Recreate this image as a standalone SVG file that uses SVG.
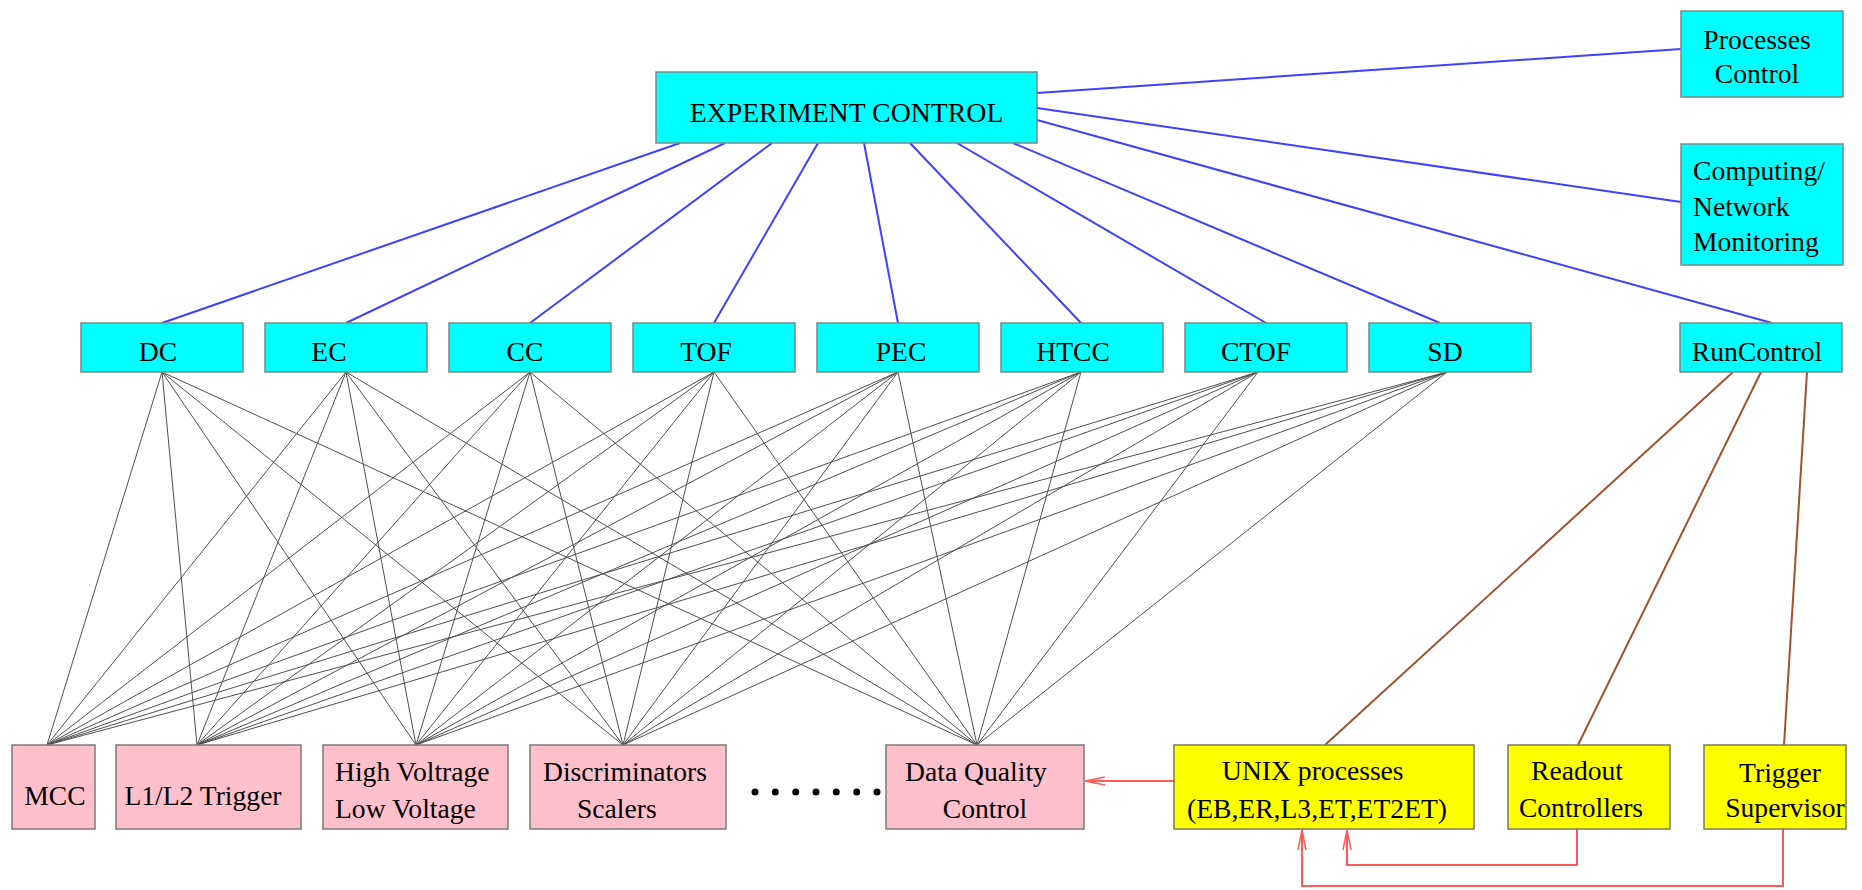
<svg xmlns="http://www.w3.org/2000/svg" width="1862" height="890" viewBox="0 0 1862 890">
<style>
text{font-family:"Liberation Serif","Times New Roman",serif;font-size:27.6px;fill:#000}
.c{text-anchor:middle}
.cy{fill:#00ffff;stroke:#7a8a8a;stroke-width:1.5}
.pk{fill:#ffc0cb;stroke:#7a7a7a;stroke-width:1.5}
.ye{fill:#ffff00;stroke:#7a7a5a;stroke-width:1.5}
.bl{stroke:#4040ff;stroke-width:2;fill:none}
.gr{stroke:#505050;stroke-width:1;fill:none}
.br{stroke:#a0522d;stroke-width:2;fill:none}
.rd{stroke:#ff5a5a;stroke-width:2;fill:none;marker-end:url(#ah)}
</style>
<defs>
<marker id="ah" viewBox="0 0 20 10" refX="20" refY="5" markerWidth="20" markerHeight="10" markerUnits="userSpaceOnUse" orient="auto">
<path d="M0,1 L20,5 L0,9" fill="none" stroke="#ff5a5a" stroke-width="1.5"/>
</marker>
</defs>
<g id="connectors">
<line class="bl" x1="680" y1="143" x2="162" y2="323"/>
<line class="bl" x1="725" y1="143" x2="346" y2="323"/>
<line class="bl" x1="772" y1="143" x2="530" y2="323"/>
<line class="bl" x1="818" y1="143" x2="714" y2="323"/>
<line class="bl" x1="864" y1="143" x2="898" y2="323"/>
<line class="bl" x1="910" y1="143" x2="1081" y2="323"/>
<line class="bl" x1="957" y1="143" x2="1266" y2="323"/>
<line class="bl" x1="1013" y1="143" x2="1440" y2="323"/>
<line class="bl" x1="1037" y1="93" x2="1681" y2="49"/>
<line class="bl" x1="1037" y1="108" x2="1681" y2="202"/>
<line class="bl" x1="1037" y1="120" x2="1772" y2="323"/>
<g class="gr">
<line x1="162" y1="372" x2="47" y2="745"/><line x1="162" y1="372" x2="197" y2="745"/><line x1="162" y1="372" x2="416" y2="745"/><line x1="162" y1="372" x2="623" y2="745"/><line x1="162" y1="372" x2="977" y2="745"/>
<line x1="346" y1="372" x2="47" y2="745"/><line x1="346" y1="372" x2="197" y2="745"/><line x1="346" y1="372" x2="416" y2="745"/><line x1="346" y1="372" x2="623" y2="745"/><line x1="346" y1="372" x2="977" y2="745"/>
<line x1="530" y1="372" x2="47" y2="745"/><line x1="530" y1="372" x2="197" y2="745"/><line x1="530" y1="372" x2="416" y2="745"/><line x1="530" y1="372" x2="623" y2="745"/><line x1="530" y1="372" x2="977" y2="745"/>
<line x1="714" y1="372" x2="47" y2="745"/><line x1="714" y1="372" x2="197" y2="745"/><line x1="714" y1="372" x2="416" y2="745"/><line x1="714" y1="372" x2="623" y2="745"/><line x1="714" y1="372" x2="977" y2="745"/>
<line x1="898" y1="372" x2="47" y2="745"/><line x1="898" y1="372" x2="197" y2="745"/><line x1="898" y1="372" x2="416" y2="745"/><line x1="898" y1="372" x2="623" y2="745"/><line x1="898" y1="372" x2="977" y2="745"/>
<line x1="1081" y1="372" x2="47" y2="745"/><line x1="1081" y1="372" x2="197" y2="745"/><line x1="1081" y1="372" x2="416" y2="745"/><line x1="1081" y1="372" x2="623" y2="745"/><line x1="1081" y1="372" x2="977" y2="745"/>
<line x1="1258" y1="372" x2="47" y2="745"/><line x1="1258" y1="372" x2="197" y2="745"/><line x1="1258" y1="372" x2="416" y2="745"/><line x1="1258" y1="372" x2="623" y2="745"/><line x1="1258" y1="372" x2="977" y2="745"/>
<line x1="1447" y1="372" x2="47" y2="745"/><line x1="1447" y1="372" x2="197" y2="745"/><line x1="1447" y1="372" x2="416" y2="745"/><line x1="1447" y1="372" x2="623" y2="745"/><line x1="1447" y1="372" x2="977" y2="745"/>
</g>
<line class="br" x1="1733" y1="372" x2="1325" y2="745"/>
<line class="br" x1="1761" y1="372" x2="1578" y2="745"/>
<line class="br" x1="1807" y1="372" x2="1784" y2="745"/>
<path class="rd" d="M1174,781 L1085,781"/>
<path class="rd" d="M1577,829 L1577,865 L1347,865 L1347,830"/>
<path class="rd" d="M1783,829 L1783,886 L1302,886 L1302,830"/>
</g>
<g id="experiment-control"><rect class="cy" x="656" y="72" width="381" height="71"/><text class="c" x="846.5" y="122" style="font-size:27.8px">EXPERIMENT CONTROL</text></g>
<g id="processes-control"><rect class="cy" x="1681" y="11" width="162" height="86"/><text class="c" x="1757" y="49">Processes</text><text class="c" x="1757" y="83">Control</text></g>
<g id="computing"><rect class="cy" x="1681" y="144" width="162" height="121"/><text x="1693" y="180">Computing/</text><text x="1693" y="216">Network</text><text x="1693" y="251">Monitoring</text></g>
<g id="dc"><rect class="cy" x="81" y="323" width="162" height="49"/><text class="c" x="158" y="361">DC</text></g>
<g id="ec"><rect class="cy" x="265" y="323" width="162" height="49"/><text class="c" x="329" y="361">EC</text></g>
<g id="cc"><rect class="cy" x="449" y="323" width="162" height="49"/><text class="c" x="525" y="361">CC</text></g>
<g id="tof"><rect class="cy" x="633" y="323" width="162" height="49"/><text class="c" x="706" y="361">TOF</text></g>
<g id="pec"><rect class="cy" x="817" y="323" width="162" height="49"/><text class="c" x="901" y="361">PEC</text></g>
<g id="htcc"><rect class="cy" x="1001" y="323" width="162" height="49"/><text class="c" x="1073" y="361">HTCC</text></g>
<g id="ctof"><rect class="cy" x="1185" y="323" width="162" height="49"/><text class="c" x="1256" y="361">CTOF</text></g>
<g id="sd"><rect class="cy" x="1369" y="323" width="162" height="49"/><text class="c" x="1445" y="361">SD</text></g>
<g id="runcontrol"><rect class="cy" x="1680" y="323" width="162" height="49"/><text class="c" x="1757" y="361">RunControl</text></g>
<g id="mcc"><rect class="pk" x="12" y="745" width="83" height="84"/><text class="c" x="55" y="805">MCC</text></g>
<g id="l1l2"><rect class="pk" x="116" y="745" width="185" height="84"/><text class="c" x="203" y="805">L1/L2 Trigger</text></g>
<g id="hv"><rect class="pk" x="323" y="745" width="185" height="84"/><text x="335" y="781">High Voltrage</text><text x="335" y="818">Low Voltage</text></g>
<g id="disc"><rect class="pk" x="530" y="745" width="196" height="84"/><text x="543" y="781">Discriminators</text><text x="577" y="818">Scalers</text></g>
<g id="dots" fill="#000"><circle cx="755" cy="792" r="3.5"/><circle cx="775.3" cy="792" r="3.5"/><circle cx="795.7" cy="792" r="3.5"/><circle cx="816" cy="792" r="3.5"/><circle cx="836.3" cy="792" r="3.5"/><circle cx="856.7" cy="792" r="3.5"/><circle cx="877" cy="792" r="3.5"/></g>
<g id="dq"><rect class="pk" x="886" y="745" width="198" height="84"/><text class="c" x="976" y="781">Data Quality</text><text class="c" x="985" y="818">Control</text></g>
<g id="unix"><rect class="ye" x="1174" y="745" width="300" height="84"/><text x="1222" y="780">UNIX processes</text><text x="1187" y="818">(EB,ER,L3,ET,ET2ET)</text></g>
<g id="readout"><rect class="ye" x="1508" y="745" width="162" height="84"/><text class="c" x="1577" y="780">Readout</text><text class="c" x="1581" y="817">Controllers</text></g>
<g id="trigger"><rect class="ye" x="1704" y="745" width="142" height="84"/><text class="c" x="1780" y="782">Trigger</text><text class="c" x="1785" y="817">Supervisor</text></g>
</svg>
